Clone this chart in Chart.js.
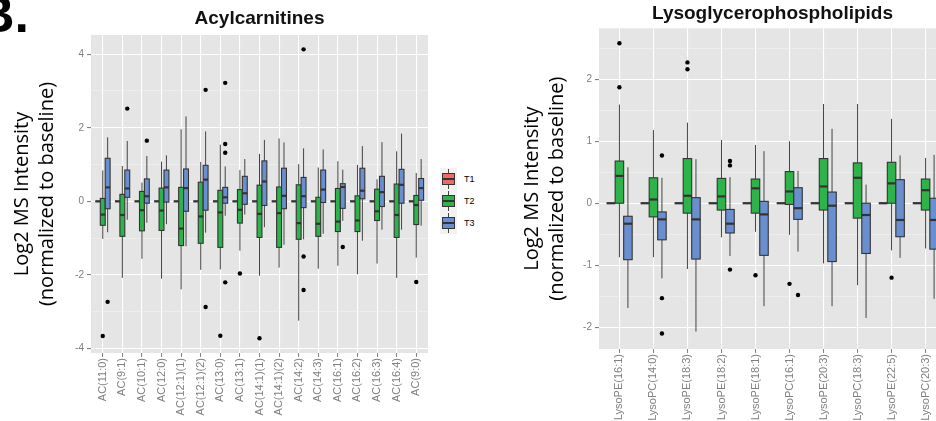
<!DOCTYPE html>
<html>
<head>
<meta charset="utf-8">
<title>Acylcarnitines / Lysoglycerophospholipids</title>
<script src="https://cdn.jsdelivr.net/npm/chart.js@4.4.1/dist/chart.umd.min.js"></script>
<style>
    html, body { margin: 0; padding: 0; overflow: hidden; background: #fff; }
    body { position: relative; width: 936px; height: 421px; font-family: "Liberation Sans", Arial, sans-serif; }
    .wrap { position: absolute; top: 0; height: 421px; }
    #acWrap { left: 0; width: 436px; }
    #lysoWrap { left: 480px; width: 476px; }
    .panelLetter { position: absolute; left: -23px; top: -11px; font: bold 52px/50px "Liberation Sans", Arial, sans-serif; color: #000; }
    #legend { position: absolute; left: 440px; top: 168px; }
    .item { position: relative; height: 22px; width: 40px; }
    .key { position: absolute; left: 0; top: 0; width: 17px; height: 22px; background: #F2F2F2; }
    .whisk { position: absolute; left: 8px; top: 1px; width: 1px; height: 20px; background: #444; }
    .box { position: absolute; left: 2px; top: 5px; width: 13px; height: 12px; box-sizing: border-box; border: 1px solid #333; }
    .med { position: absolute; left: 2px; top: 10px; width: 13px; height: 2px; background: #333; }
    .lab { position: absolute; left: 24px; top: 5px; font-size: 9px; line-height: 12px; color: #000; }
</style>
</head>
<body>
<div class="panelLetter">B.</div>
<div class="wrap" id="acWrap"><canvas id="acChart"></canvas></div>
<div class="wrap" id="lysoWrap"><canvas id="lysoChart"></canvas></div>
<div id="legend"></div>

<script>
// --- datos ---
const seriesNames = ['T1', 'T2', 'T3'];
const seriesColors = ['#EE6A62', '#2DB34A', '#6A8FD0'];

// Acylcarnitines
const acCategories = ['AC(11:0)', 'AC(9:1)', 'AC(10:1)', 'AC(12:0)', 'AC(12:1)(1)', 'AC(12:1)(2)', 'AC(13:0)', 'AC(13:1)',
    'AC(14:1)(1)', 'AC(14:1)(2)', 'AC(14:2)', 'AC(14:3)', 'AC(16:1)', 'AC(16:2)', 'AC(16:3)', 'AC(16:4)', 'AC(9:0)'];
const acT1 = [0, 0, 0, 0, 0, 0, 0, 0, 0, 0, 0, 0, 0, 0, 0, 0, 0];
const acT2Low  = [-1.02, -2.08, -1.56, -2.10, -2.39, -1.86, -1.85, -1.34, -2.02, -1.80, -3.24, -1.83, -1.75, -1.98, -1.69, -2.08, -1.53];
const acT2Q1   = [-0.65, -0.95, -0.80, -0.79, -1.20, -1.14, -1.25, -0.59, -0.98, -1.25, -1.03, -0.95, -0.82, -0.82, -0.52, -0.98, -0.63];
const acT2Med  = [-0.36, -0.37, -0.24, -0.25, -0.74, -0.41, -0.30, -0.23, -0.34, -0.32, -0.59, -0.61, -0.55, -0.52, -0.27, -0.37, -0.10];
const acT2Q3   = [0.08, 0.19, 0.27, 0.36, 0.38, 0.52, 0.30, 0.32, 0.44, 0.39, 0.45, 0.11, 0.35, 0.15, 0.33, 0.47, 0.16];
const acT2High = [0.84, 0.96, 0.51, 1.08, 1.96, 1.07, 1.54, 0.85, 1.29, 1.71, 1.01, 0.92, 1.09, 0.99, 0.60, 1.36, 0.77];
const acT3Low  = [-0.84, -0.50, -0.58, -0.62, -1.22, -0.85, -0.39, -0.36, -0.70, -1.18, -1.03, -0.88, -0.53, -1.07, -0.77, -0.77, -0.66];
const acT3Q1   = [-0.20, 0.11, -0.05, -0.02, -0.27, -0.24, -0.05, -0.08, -0.11, -0.20, -0.17, -0.03, -0.19, 0.07, -0.14, -0.05, 0.03];
const acT3Med  = [0.38, 0.35, 0.14, 0.38, 0.36, 0.59, 0.11, 0.22, 0.54, 0.15, 0.14, 0.32, 0.39, 0.29, 0.25, 0.45, 0.36];
const acT3Q3   = [1.17, 0.85, 0.61, 0.85, 0.88, 0.98, 0.38, 0.68, 1.10, 0.90, 0.65, 0.85, 0.48, 0.90, 0.68, 0.87, 0.62];
const acT3High = [1.74, 1.64, 1.23, 1.25, 2.31, 1.90, 0.95, 1.15, 1.67, 1.60, 1.44, 1.41, 0.86, 1.50, 1.61, 1.84, 1.15];
const acT2Outliers = [['AC(11:0)', -3.66], ['AC(13:0)', -3.65], ['AC(13:1)', -1.96], ['AC(14:1)(1)', -3.72], ['AC(9:0)', -2.19]];
const acT3Outliers = [['AC(11:0)', -2.73], ['AC(9:1)', 2.52], ['AC(10:1)', 1.65], ['AC(12:1)(2)', 3.03], ['AC(12:1)(2)', -2.87],
    ['AC(13:0)', 3.22], ['AC(13:0)', 1.56], ['AC(13:0)', 1.32], ['AC(13:0)', -2.20],
    ['AC(14:2)', 4.13], ['AC(14:2)', -1.50], ['AC(14:2)', -2.41], ['AC(16:1)', -1.24]];
const acYTicks = [-4, -3, -2, -1, 0, 1, 2, 3, 4];
const acYMajor = [-4, -2, 0, 2, 4];

// Lysoglycerophospholipids
const lysoCategories = ['LysoPE(16:1)', 'LysoPC(14:0)', 'LysoPE(18:3)', 'LysoPE(18:2)', 'LysoPE(18:1)',
    'LysoPC(16:1)', 'LysoPE(20:3)', 'LysoPC(18:3)', 'LysoPE(22:5)', 'LysoPC(20:3)'];
const lysoT1 = [0, 0, 0, 0, 0, 0, 0, 0, 0, 0];
const lysoT2Low  = [-0.87, -0.87, -1.06, -0.55, -0.46, -0.51, -0.97, -1.32, -0.76, -0.73];
const lysoT2Q1   = [0.00, -0.22, -0.16, -0.11, -0.16, -0.02, -0.11, -0.24, 0.00, -0.11];
const lysoT2Med  = [0.44, 0.06, 0.12, 0.11, 0.24, 0.19, 0.27, 0.41, 0.32, 0.21];
const lysoT2Q3   = [0.68, 0.41, 0.72, 0.40, 0.39, 0.51, 0.72, 0.65, 0.66, 0.39];
const lysoT2High = [1.59, 1.18, 1.30, 1.02, 0.94, 1.00, 1.60, 1.60, 1.36, 0.73];
const lysoT3Low  = [-1.69, -1.21, -2.07, -0.85, -1.66, -0.78, -1.66, -1.85, -0.88, -1.54];
const lysoT3Q1   = [-0.91, -0.59, -0.90, -0.48, -0.84, -0.26, -0.94, -0.81, -0.54, -0.74];
const lysoT3Med  = [-0.33, -0.26, -0.26, -0.33, -0.18, -0.08, -0.04, -0.19, -0.27, -0.27];
const lysoT3Q3   = [-0.21, -0.14, 0.09, -0.10, 0.03, 0.25, 0.18, 0.00, 0.38, 0.08];
const lysoT3High = [0.58, 0.41, 0.71, 0.42, 0.84, 0.52, 1.20, 0.30, 0.77, 0.78];
const lysoT2Outliers = [['LysoPE(16:1)', 2.58], ['LysoPE(16:1)', 1.87], ['LysoPE(18:3)', 2.27], ['LysoPE(18:3)', 2.16],
    ['LysoPE(18:1)', -1.16], ['LysoPC(16:1)', -1.30], ['LysoPE(22:5)', -1.20]];
const lysoT3Outliers = [['LysoPC(14:0)', 0.77], ['LysoPC(14:0)', -1.53], ['LysoPC(14:0)', -2.10],
    ['LysoPE(18:2)', 0.68], ['LysoPE(18:2)', 0.61], ['LysoPE(18:2)', -1.07], ['LysoPC(16:1)', -1.48]];
const lysoYTicks = [-2, -1.5, -1, -0.5, 0, 0.5, 1, 1.5, 2, 2.5];
const lysoYMajor = [-2, -1, 0, 1, 2];

// --- estilo ---
const PANEL_BG = '#E5E5E5';
const DODGE = 0.25;   // separacion entre T1/T2/T3 (unidades de categoria)
const BOX_W = 0.25;

Chart.defaults.font.family = '"Liberation Sans", Arial, sans-serif';
Chart.defaults.animation = false;

// Plugin que pinta el fondo del panel y las cajas (bigotes, caja, mediana)
function boxPlotPlugin(series) {
    return {
        id: 'boxPlot',
        beforeDraw(chart) {
            const { ctx, chartArea } = chart;
            ctx.save();
            ctx.fillStyle = PANEL_BG;
            ctx.fillRect(chartArea.left, chartArea.top, chartArea.width, chartArea.height);
            ctx.restore();
        },
        beforeDatasetsDraw(chart) {
            const { ctx, scales: { x, y } } = chart;
            const half = (x.getPixelForValue(BOX_W) - x.getPixelForValue(0)) / 2;
            ctx.save();
            series.forEach((s, si) => {
                const off = (si - 1) * DODGE;
                s.med.forEach((m, i) => {
                    const cx = x.getPixelForValue(i + 1 + off);
                    const yLow = y.getPixelForValue(s.low[i]);
                    const yQ1 = y.getPixelForValue(s.q1[i]);
                    const yMed = y.getPixelForValue(m);
                    const yQ3 = y.getPixelForValue(s.q3[i]);
                    const yHigh = y.getPixelForValue(s.high[i]);

                    ctx.strokeStyle = '#444';
                    ctx.lineWidth = 1;
                    ctx.beginPath();
                    ctx.moveTo(cx, yHigh); ctx.lineTo(cx, yQ3);
                    ctx.moveTo(cx, yQ1); ctx.lineTo(cx, yLow);
                    ctx.stroke();

                    ctx.fillStyle = s.color;
                    ctx.fillRect(cx - half, yQ3, 2 * half, yQ1 - yQ3);
                    ctx.strokeStyle = '#333';
                    ctx.lineWidth = 1.1;
                    ctx.strokeRect(cx - half, yQ3, 2 * half, yQ1 - yQ3);

                    ctx.lineWidth = 2.2;
                    ctx.beginPath();
                    ctx.moveTo(cx - half, yMed); ctx.lineTo(cx + half, yMed);
                    ctx.stroke();
                });
            });
            ctx.restore();
        }
    };
}

function makePanel(canvasId, cfg) {
    const { categories, series, outliers, yMin, yMax, yTicks, yMajor, title } = cfg;
    const points = [];
    outliers.forEach((list, si) => {
        const off = (si - 1) * DODGE;
        list.forEach(([cat, v]) => points.push({ x: categories.indexOf(cat) + 1 + off, y: v }));
    });
    const isMajor = v => yMajor.includes(v);

    return new Chart(document.getElementById(canvasId), {
        type: 'scatter',
        data: {
            datasets: [{
                label: 'outliers',
                data: points,
                pointRadius: 2.2,
                pointBackgroundColor: '#000',
                pointBorderWidth: 0
            }]
        },
        options: {
            responsive: true,
            maintainAspectRatio: false,
            layout: { padding: { left: 0, right: cfg.padRight, top: 0, bottom: 0 } },
            scales: {
                x: {
                    type: 'linear',
                    min: 0.4,
                    max: categories.length + 0.6,
                    afterBuildTicks: s => { s.ticks = categories.map((c, i) => ({ value: i + 1 })); },
                    afterFit: s => { s.height = cfg.xAxisHeight; },
                    ticks: {
                        autoSkip: false,
                        minRotation: 90,
                        maxRotation: 90,
                        padding: 1,
                        color: '#7F7F7F',
                        font: { size: 11 },
                        callback: v => categories[v - 1]
                    },
                    grid: { color: '#FFFFFF', lineWidth: 1.1, tickLength: 4, tickColor: '#7F7F7F', tickWidth: 1 },
                    border: { display: false }
                },
                y: {
                    type: 'linear',
                    min: yMin,
                    max: yMax,
                    afterBuildTicks: s => { s.ticks = yTicks.map(v => ({ value: v })); },
                    afterFit: s => { s.width = cfg.yAxisWidth; },
                    ticks: {
                        autoSkip: false,
                        padding: 3,
                        color: '#7F7F7F',
                        font: { size: 10 },
                        callback: v => isMajor(v) ? String(v) : ''
                    },
                    grid: {
                        color: c => (c.tick && isMajor(c.tick.value)) ? '#FFFFFF' : '#F2F2F2',
                        lineWidth: c => (c.tick && isMajor(c.tick.value)) ? 1.1 : 0.6,
                        tickLength: 4,
                        tickColor: c => (c.tick && isMajor(c.tick.value)) ? '#7F7F7F' : 'rgba(0,0,0,0)'
                    },
                    border: { display: false },
                    title: {
                        display: true,
                        text: ['Log2 MS Intensity', '(normalized to baseline)'],
                        color: '#000',
                        font: { family: '"Open Sans", sans-serif', size: 20, lineHeight: 1.25 },
                        padding: { top: cfg.yTitlePad, bottom: 0 }
                    }
                }
            },
            plugins: {
                legend: { display: false },
                tooltip: { enabled: false },
                title: {
                    display: true,
                    text: title,
                    fullSize: false,
                    color: '#111',
                    font: { size: 19, weight: 'bold', lineHeight: 1.2 },
                    padding: { top: cfg.titleTop, bottom: cfg.titleBottom }
                }
            }
        },
        plugins: [boxPlotPlugin(series)]
    });
}

const acSeries = [
    { color: seriesColors[0], low: acT1, q1: acT1, med: acT1, q3: acT1, high: acT1 },
    { color: seriesColors[1], low: acT2Low, q1: acT2Q1, med: acT2Med, q3: acT2Q3, high: acT2High },
    { color: seriesColors[2], low: acT3Low, q1: acT3Q1, med: acT3Med, q3: acT3Q3, high: acT3High }
];
const lysoSeries = [
    { color: seriesColors[0], low: lysoT1, q1: lysoT1, med: lysoT1, q3: lysoT1, high: lysoT1 },
    { color: seriesColors[1], low: lysoT2Low, q1: lysoT2Q1, med: lysoT2Med, q3: lysoT2Q3, high: lysoT2High },
    { color: seriesColors[2], low: lysoT3Low, q1: lysoT3Q1, med: lysoT3Med, q3: lysoT3Q3, high: lysoT3High }
];

makePanel('acChart', {
    categories: acCategories, series: acSeries, outliers: [[], acT2Outliers, acT3Outliers],
    yMin: -4.12, yMax: 4.52, yTicks: acYTicks, yMajor: acYMajor, title: 'Acylcarnitines',
    padRight: 8, xAxisHeight: 68, yAxisWidth: 91, yTitlePad: 10, titleTop: 7, titleBottom: 5.2
});

makePanel('lysoChart', {
    categories: lysoCategories, series: lysoSeries, outliers: [[], lysoT2Outliers, lysoT3Outliers],
    yMin: -2.35, yMax: 2.82, yTicks: lysoYTicks, yMajor: lysoYMajor, title: 'Lysoglycerophospholipids',
    padRight: 10, xAxisHeight: 72, yAxisWidth: 119, yTitlePad: 40, titleTop: 2.6, titleBottom: 2.9
});

// Leyenda (T1, T2, T3) a la derecha del primer panel
document.getElementById('legend').innerHTML = seriesNames.map((name, i) => `
    <div class="item">
        <div class="key"><div class="whisk"></div><div class="box" style="background:${seriesColors[i]}"></div><div class="med"></div></div>
        <div class="lab">${name}</div>
    </div>`).join('');
</script>
</body>
</html>
